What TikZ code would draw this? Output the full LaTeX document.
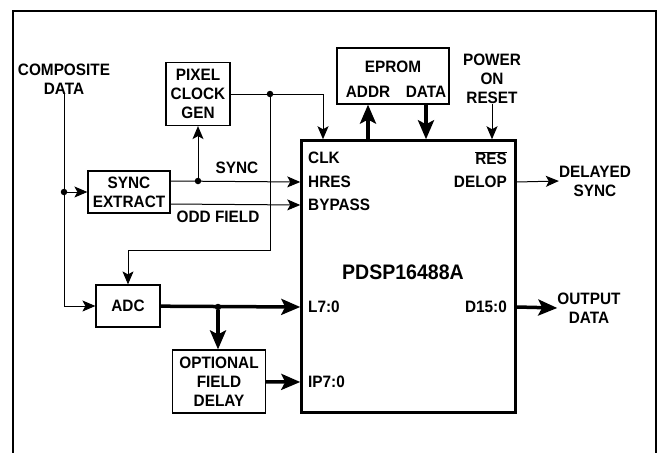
\documentclass[tikz,border=0pt]{standalone}
\usepackage{fontspec}
\setmainfont{Liberation Sans}[FakeStretch=0.93]
\usetikzlibrary{arrows.meta}

\begin{document}
\begin{tikzpicture}[x=1pt,y=-1pt,font=\bfseries\fontsize{16.5}{19}\selectfont]
				\tikzstyle{box}=[draw,line width=1.2pt,align=center,inner sep=0pt]
				\tikzstyle{lbl}=[align=center,inner sep=0pt]
				\tikzstyle{pin}=[inner sep=0pt]
				\tikzstyle{thin}=[line width=1pt,-{Stealth[length=13pt,width=11pt,inset=3pt]}]
				\tikzstyle{bus}=[line width=3.5pt,-{Stealth[length=19pt,width=16pt,inset=4pt]}]
				\tikzstyle{dot}=[circle,fill,inner sep=0pt,minimum size=6.5pt]
				\useasboundingbox (0,0) rectangle (660,452);
				\draw[line width=1.5pt] (13,460) -- (13,11) -- (656,11) -- (656,460);
				\node[draw,line width=2.5pt,minimum width=214pt,minimum height=272pt] (chip) at (408.5,276.5) {};
				\node[box,minimum width=64pt,minimum height=63pt] (pix) at (198,94) {PIXEL\\CLOCK\\GEN};
				\node[box,minimum width=82pt,minimum height=42pt] (sync) at (129,192) {SYNC\\EXTRACT};
				\node[box,minimum width=64pt,minimum height=42pt] (adc) at (128,306) {ADC};
				\node[box,minimum width=93pt,minimum height=63pt] (ofd) at (219,381.5) {OPTIONAL\\FIELD\\DELAY};
				\node[box,minimum width=112pt,minimum height=56pt] (eprom) at (393,76) {};
				\node[lbl] (eplbl) at (393,67) {EPROM};
				\node[lbl] (addr) at (368,92) {ADDR};
				\node[lbl] (data) at (426,92) {DATA};
				\node[lbl] (comp) at (64,79) {COMPOSITE\\DATA};
				\node[lbl] (por) at (492,79) {POWER\\ON\\RESET};
				\node[lbl] (dsync) at (595,181) {DELAYED\\SYNC};
				\node[lbl] (outd) at (589,308) {OUTPUT\\DATA};
				\node[lbl] (synclbl) at (237,168) {SYNC};
				\node[lbl] (oddlbl) at (218,217) {ODD FIELD};
				\node[pin,anchor=west] (clk) at (308,158) {CLK};
				\node[pin,anchor=west] (hres) at (308,182) {HRES};
				\node[pin,anchor=west] (bypass) at (308,205) {BYPASS};
				\node[pin,anchor=west] (lin) at (308,307) {L7:0};
				\node[pin,anchor=west] (ipin) at (308,382) {IP7:0};
				\node[pin,anchor=east] (res) at (507,158) {$\overline{\hbox{RES}}$};
				\node[pin,anchor=east] (delop) at (507,182) {DELOP};
				\node[pin,anchor=east] (dout) at (507,307) {D15:0};
				\node[lbl,font=\bfseries\fontsize{21}{24}\selectfont] (name) at (403,272) {PDSP16488A};
				\node[dot] (j1) at (64,192) {};
				\node[dot] (j2) at (198,181) {};
				\node[dot] (j3) at (270,94) {};
				\node[dot] (j4) at (218,307) {};
				\coordinate (oddout) at (170,204);
				\coordinate (bend) at (270,250);
				\draw[thin] (comp) |- (adc);
				\draw[thin] (j1) -- (sync);
				\draw[thin] (sync.east |- j2) -- (chip.west |- hres);
				\draw[thin] (j2) -- (pix);
				\draw[thin] (oddout) -- (chip.west |- bypass);
				\draw[thin] (pix) -| ([xshift=-85.5pt]chip.north);
				\draw[thin] (j3) -- (bend) -| (adc);
				\draw[bus] (adc) -- (chip.west |- lin);
				\draw[bus] (j4) -- (j4 |- ofd.north);
				\draw[bus] (ofd) -- (chip.west |- ipin);
				\draw[bus] (chip.north -| addr) -- (eprom.south -| addr);
				\draw[bus] (eprom.south -| data) -- (chip.north -| data);
				\draw[thin] (por) -- (por |- chip.north);
				\draw[thin] (chip.east |- delop) -- (dsync.west);
				\draw[bus] (chip.east |- dout) -- (outd.west);
\end{tikzpicture}
\end{document}
